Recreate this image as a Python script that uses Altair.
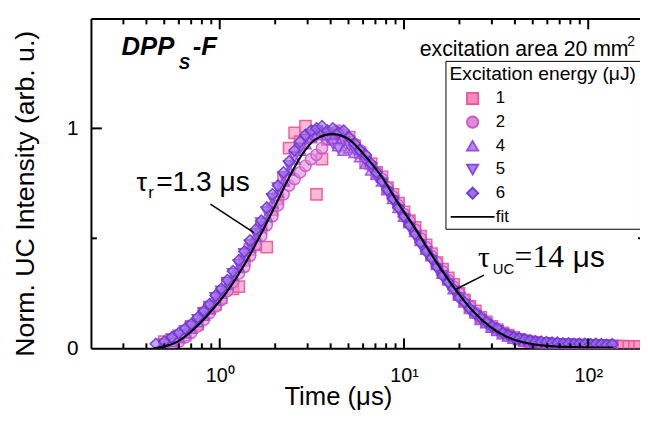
import altair as alt
import pandas as pd

# ---------------- data ----------------
T = [0.45, 0.50, 0.55, 0.60, 0.65, 0.70, 0.76, 0.82, 0.88, 0.95,
     1.02, 1.10, 1.18, 1.27, 1.36, 1.46, 1.57, 1.68, 1.80, 1.93,
     2.07, 2.22, 2.38, 2.55, 2.73, 2.92, 3.13, 3.35, 3.59, 3.84,
     4.11, 4.40, 4.71, 5.04, 5.40, 5.78, 6.19, 6.63, 7.10, 7.60,
     8.14, 8.72, 9.34, 10.0, 10.7, 11.5, 12.3, 13.2, 14.1, 15.1,
     16.2, 17.4, 18.6, 19.9, 21.3, 22.8, 24.4, 26.1, 28.0, 30.0,
     32.1, 34.4, 36.8, 39.4, 42.2, 45.2, 48.4, 51.8, 55.5, 59.4,
     63.6, 68.1, 72.9, 78.1, 83.6, 89.5, 95.8, 103, 110, 118,
     126, 135]

E1 = [None, 0.03, 0.04, 0.05, 0.06, 0.10, 0.11, 0.16, 0.18, 0.20,
      0.23, 0.29, 0.27, 0.28, 0.40, 0.45, 0.47, 0.55, 0.46, 0.63,
      0.68, 0.77, 0.91, 0.98, 0.94, 1.01, 0.96, 0.70, 0.86, 0.95,
      0.97, 0.98, 0.95, 0.96, 0.92, 0.89, 0.85, 0.84, 0.80, 0.78,
      0.73, 0.70, 0.66, 0.62, 0.58, 0.55, 0.51, 0.47, 0.43, 0.39,
      0.36, 0.32, 0.29, 0.25, 0.22, 0.19, 0.17, 0.14, 0.12, 0.10,
      0.085, 0.07, 0.06, 0.05, 0.04, 0.035, 0.03, 0.025, 0.022, 0.02,
      0.018, 0.017, 0.015, 0.015, 0.014, 0.013, 0.012, 0.012, 0.011, 0.011,
      0.010, 0.010]
T1_TAIL = [145, 155, 166, 178, 190]
E1_TAIL = [0.010, 0.010, 0.009, 0.009, 0.008]

E2 = [None, None, 0.02, 0.03, 0.05, 0.07, 0.10, 0.13, 0.16, 0.19,
      0.22, 0.26, 0.30, 0.34, 0.37, 0.42, 0.47, 0.51, 0.56, 0.60,
      0.65, 0.70, 0.74, 0.77, 0.80, 0.83, 0.86, 0.88, 0.91, 0.95,
      0.98, 0.99, 0.97, 0.95, 0.93, 0.90, 0.87, 0.83, 0.80, 0.77,
      0.73, 0.69, 0.65, 0.61, 0.58, 0.54, 0.50, 0.46, 0.42, 0.39,
      0.35, 0.31, 0.28, 0.25, 0.22, 0.19, 0.16, 0.14, 0.12, 0.10,
      0.085, 0.07, 0.06, 0.05, 0.042, 0.036, 0.031, 0.028, 0.025, 0.023,
      0.021, 0.020, 0.019, 0.018, 0.017, 0.016, 0.016, 0.015, 0.015, 0.014,
      0.013, 0.013]

E4 = [None, 0.01, 0.03, 0.05, 0.07, 0.09, 0.12, 0.15, 0.18, 0.22,
      0.25, 0.29, 0.33, 0.37, 0.42, 0.46, 0.51, 0.56, 0.60, 0.66,
      0.71, 0.76, 0.81, 0.86, 0.90, 0.93, 0.96, 0.97, 0.99, 0.97,
      0.95, 0.92, 0.90, 0.91, 0.89, 0.87, 0.84, 0.81, 0.79, 0.76,
      0.72, 0.68, 0.64, 0.60, 0.57, 0.53, 0.49, 0.45, 0.42, 0.38,
      0.34, 0.31, 0.27, 0.24, 0.21, 0.18, 0.16, 0.13, 0.115, 0.095,
      0.08, 0.065, 0.055, 0.045, 0.04, 0.033, 0.03, 0.027, 0.025, 0.023,
      0.022, 0.020, 0.020, 0.018, 0.018, 0.017, 0.016, 0.016, 0.015, 0.014,
      0.014, 0.013]

E5 = [None, 0.02, 0.04, 0.06, 0.08, 0.10, 0.13, 0.16, 0.19, 0.23,
      0.26, 0.30, 0.34, 0.38, 0.43, 0.47, 0.52, 0.57, 0.62, 0.68,
      0.73, 0.78, 0.83, 0.87, 0.91, 0.95, 0.97, 0.99, 0.98, 0.96,
      0.93, 0.91, 0.94, 0.92, 0.90, 0.88, 0.85, 0.82, 0.78, 0.75,
      0.71, 0.67, 0.63, 0.59, 0.55, 0.51, 0.47, 0.44, 0.40, 0.36,
      0.33, 0.29, 0.26, 0.23, 0.20, 0.17, 0.15, 0.13, 0.11, 0.09,
      0.08, 0.065, 0.055, 0.045, 0.04, 0.035, 0.03, 0.028, 0.025, 0.025,
      0.022, 0.020, 0.020, 0.020, 0.018, 0.018, 0.017, 0.016, 0.015, 0.015,
      0.014, 0.013]

E6 = [0.02, 0.03, 0.05, 0.07, 0.09, 0.11, 0.14, 0.17, 0.20, 0.24,
      0.27, 0.31, 0.35, 0.40, 0.44, 0.49, 0.54, 0.58, 0.64, 0.70,
      0.74, 0.80, 0.85, 0.90, 0.94, 0.97, 0.99, 1.00, 1.01, 0.99,
      1.00, 0.98, 0.99, 0.96, 0.93, 0.90, 0.88, 0.84, 0.80, 0.76,
      0.72, 0.68, 0.64, 0.60, 0.56, 0.52, 0.48, 0.44, 0.41, 0.37,
      0.33, 0.30, 0.27, 0.23, 0.21, 0.18, 0.16, 0.14, 0.12, 0.10,
      0.09, 0.07, 0.06, 0.05, 0.045, 0.04, 0.035, 0.03, 0.03, 0.028,
      0.025, 0.025, 0.022, 0.022, 0.020, 0.020, 0.020, 0.018, 0.020, 0.018,
      0.015, 0.018]

FIT_T = [0.44, 0.59, 0.73, 0.89, 1.09, 1.35, 1.65, 2.03, 2.39, 2.82,
         3.32, 4.08, 5.01, 6.15, 7.57, 9.29, 11.4, 14.0, 15.9, 19.5,
         23.9, 29.4, 36.1, 44.3, 66.9, 137]
FIT_I = [0.0, 0.03, 0.09, 0.165, 0.255, 0.375, 0.51, 0.66, 0.78, 0.885,
         0.951, 0.974, 0.951, 0.875, 0.78, 0.66, 0.55, 0.43, 0.36, 0.255,
         0.165, 0.097, 0.052, 0.027, 0.008, 0.003]

LABELS = ["1", "2", "4", "5", "6"]
LEGEND_DOMAIN = LABELS + ["fit"]
SHAPES = ["square", "circle", "triangle-up", "triangle-down", "diamond", "M-3.9,0L3.9,0"]
FILLS = ["#f48ab9", "#de8bdb", "#b987ec", "#ab7eec", "#9a70e8", "black"]
STROKES = ["#ee5299", "#cc55c6", "#9a4bdf", "#8a43dc", "#6e36d2", "black"]

X_MAJOR = [1, 10, 100]
X_MINOR = [0.3, 0.4, 0.5, 0.6, 0.7, 0.8, 0.9, 2, 3, 4, 5, 6, 7, 8, 9,
           20, 30, 40, 50, 60, 70, 80, 90]
Y_MAJOR = [0, 1]
Y_MINOR = [0.5]

# ---------------- tables ----------------
rows = []
for lab, vals in zip(LABELS, [E1, E2, E4, E5, E6]):
    for t, v in zip(T, vals):
        if v is not None:
            rows.append({"t": t, "I": v, "label": lab})
for t, v in zip(T1_TAIL, E1_TAIL):
    rows.append({"t": t, "I": v, "label": "1"})
order = {l: i for i, l in enumerate(LABELS)}
df = pd.DataFrame(rows)
df["o"] = df["label"].map(order)
df = df.sort_values(["o", "t"]).reset_index(drop=True)
fit_df = pd.DataFrame({"t": FIT_T, "I": FIT_I})
one = pd.DataFrame({"a": [0]})
xmaj_df = pd.DataFrame({"t": X_MAJOR})
xmin_df = pd.DataFrame({"t": X_MINOR})
ymaj_df = pd.DataFrame({"I": [1]})
ymin_df = pd.DataFrame({"I": Y_MINOR})

W, H = 556, 334
XS = alt.Scale(type="log", domain=[0.2, 191], nice=False)
YS = alt.Scale(domain=[0, 1.5], nice=False, zero=False)
FONT = "Liberation Sans"

x_main = alt.Axis(orient="bottom", values=X_MAJOR, ticks=False, tickSize=0, grid=False,
                  domain=True, domainWidth=2, domainColor="black",
                  labelExpr="datum.value == 1 ? '10\u2070' : datum.value == 10 ? '10\u00b9' : '10\u00b2'",
                  labelFont=FONT, labelFontSize=20, labelColor="black", labelPadding=18,
                  title="Time (\u03bcs)", titleFont=FONT, titleFontSize=26, titleFontWeight="normal",
                  titleColor="black", titleBaseline="alphabetic", titleY=57, titleX=250)
y_main = alt.Axis(orient="left", values=Y_MAJOR, ticks=False, tickSize=0, grid=False,
                  domain=True, domainWidth=2, domainColor="black",
                  labelFont=FONT, labelFontSize=21, labelColor="black", labelPadding=13,
                  title="Norm. UC Intensity (arb. u.)", titleFont=FONT, titleFontSize=27,
                  titleFontWeight="normal", titleColor="black", titlePadding=27, titleY=177)

legend = alt.Legend(title="Excitation energy (\u03bcJ)", orient="none", legendX=359, legendY=43,
                    strokeColor="black", fillColor="white", padding=4, rowPadding=5,
                    titleFont=FONT, titleFontSize=19.5, titleFontWeight="normal", titleColor="black",
                    titlePadding=6, titleLimit=400,
                    labelFont=FONT, labelFontSize=17, labelColor="black", labelOffset=15,
                    symbolOffset=15, symbolSize=130, symbolStrokeWidth=1.8)

points = alt.Chart(df).mark_point(filled=True, size=130, strokeWidth=1.5, fillOpacity=0.6,
                                  strokeOpacity=0.9, clip=True).encode(
    x=alt.X("t:Q", scale=XS, axis=x_main),
    y=alt.Y("I:Q", scale=YS, axis=y_main),
    shape=alt.Shape("label:N", scale=alt.Scale(domain=LEGEND_DOMAIN, range=SHAPES), legend=legend),
    fill=alt.Fill("label:N", scale=alt.Scale(domain=LEGEND_DOMAIN, range=FILLS)),
    stroke=alt.Stroke("label:N", scale=alt.Scale(domain=LEGEND_DOMAIN, range=STROKES)),
    order=alt.Order("o:Q"),
)

fit = alt.Chart(fit_df).mark_line(color="black", strokeWidth=2.2, interpolate="monotone", clip=True).encode(
    x=alt.X("t:Q", scale=XS, axis=None),
    y=alt.Y("I:Q", scale=YS, axis=None),
)

top_dom = alt.Chart(fit_df).mark_point(opacity=0).encode(
    x=alt.X("t:Q", scale=XS, axis=alt.Axis(orient="top", values=X_MAJOR, ticks=False, labels=False,
                                           grid=False, domain=True, domainWidth=2,
                                           domainColor="black"), title=None),
    y=alt.Y("I:Q", scale=YS, axis=None),
)


def xticks(data, y1, y2):
    return alt.Chart(data).mark_rule(color="black", strokeWidth=2).encode(
        x=alt.X("t:Q", scale=XS, axis=None), y=alt.value(y1), y2=alt.value(y2))


def yticks(data, x1, x2):
    return alt.Chart(data).mark_rule(color="black", strokeWidth=2).encode(
        y=alt.Y("I:Q", scale=YS, axis=None), x=alt.value(x1), x2=alt.value(x2))


ticks = [
    xticks(xmaj_df, H - 10, H), xticks(xmin_df, H - 5, H),
    xticks(xmaj_df, 0, 11), xticks(xmin_df, 0, 6),
    yticks(ymaj_df, 0, 11), yticks(ymin_df, 0, 6),
    yticks(ymaj_df, W - 7, W), yticks(ymin_df, W - 2, W),
]


def label(text, x, y, size, font=FONT, style="normal", weight="normal"):
    return alt.Chart(one).mark_text(text=text, align="left", baseline="alphabetic", fontSize=size,
                                    font=font, fontStyle=style, fontWeight=weight,
                                    color="black").encode(x=alt.value(x), y=alt.value(y))


def pointer(x1, y1, x2, y2):
    return alt.Chart(one).mark_rule(color="black", strokeWidth=1.5).encode(
        x=alt.value(x1), y=alt.value(y1), x2=alt.value(x2), y2=alt.value(y2))


texts = [
    label("DPP", 31, 37, 26, style="italic", weight="bold"),
    label("S", 89, 51, 17, style="italic", weight="bold"),
    label("-F", 103, 37, 26, style="italic", weight="bold"),
    label("\u03c4", 46, 175, 27),
    label("r", 58, 182, 17),
    label("=1.3 \u03bcs", 66, 175, 28.5),
    pointer(121, 188, 165, 217),
    label("\u03c4", 392, 252, 30, font="Liberation Serif"),
    label("UC", 407, 259, 15),
    label("=14", 429, 252, 32, font="Liberation Serif"),
    label("\u03bcs", 488, 252, 30),
    pointer(398, 260, 370, 274),
    label("excitation area 20 mm", 333, 38, 21.5),
    label("2", 543, 28, 14),
]

chart = alt.layer(points, fit, top_dom, *ticks, *texts).resolve_scale(
    x="shared", y="shared").resolve_axis(x="independent", y="independent").properties(
    width=W, height=H,
    autosize=alt.AutoSizeParams(type="none"),
    padding={"left": 84, "top": 8, "right": 0, "bottom": 63},
).configure_view(strokeWidth=0).configure(font=FONT)

chart.save("out.html", embed_options={"renderer": "svg", "actions": False})
